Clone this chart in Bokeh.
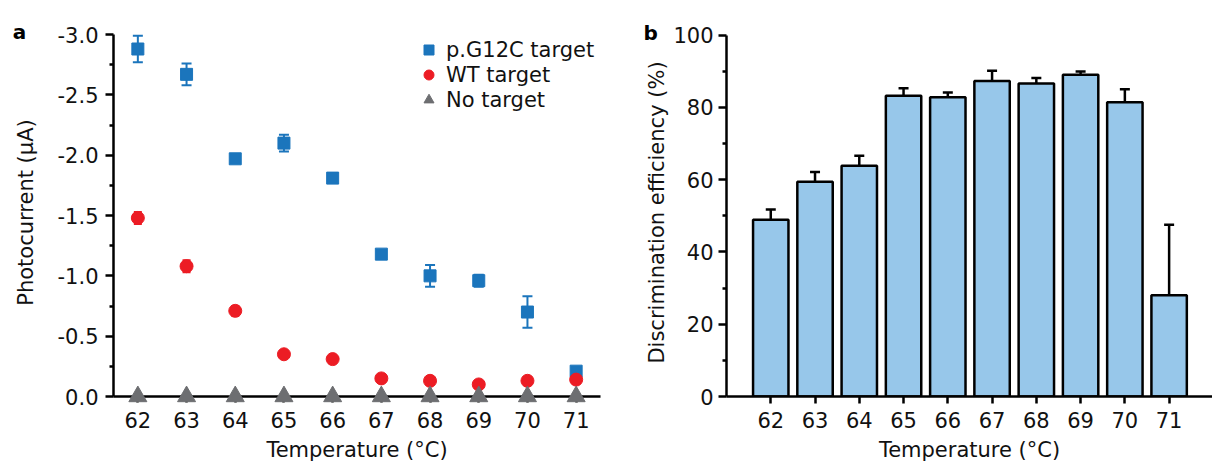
from bokeh.plotting import figure
from bokeh.models import (ColumnDataSource, Whisker, TeeHead, FixedTicker, Range1d,
                          Legend, LegendItem)
from bokeh.layouts import row
from bokeh.embed import file_html
from bokeh.resources import INLINE
from bokeh.core.properties import value

# ---------------- data ----------------
temps = [62, 63, 64, 65, 66, 67, 68, 69, 70, 71]
temp_labels = ["62", "63", "64", "65", "66", "67", "68", "69", "70", "71"]

g12c_mean = [-2.88, -2.67, -1.97, -2.10, -1.81, -1.18, -1.00, -0.96, -0.70, -0.21]
g12c_err = [0.11, 0.09, 0.02, 0.07, 0.04, 0.03, 0.09, 0.05, 0.13, 0.03]
wt_mean = [-1.48, -1.08, -0.71, -0.35, -0.31, -0.15, -0.13, -0.10, -0.13, -0.14]
wt_err = [0.05, 0.05, 0.04, 0.03, 0.02, 0.02, 0.02, 0.02, 0.02, 0.02]
none_mean = [0.0, 0.0, 0.0, 0.0, 0.0, 0.0, 0.0, 0.0, 0.0, 0.0]

eff_mean = [48.9, 59.4, 63.8, 83.2, 82.8, 87.3, 86.6, 89.0, 81.4, 28.0]
eff_err = [2.8, 2.7, 2.8, 2.1, 1.3, 2.8, 1.5, 0.9, 3.6, 19.5]

y1_ticks = [0.0, -0.5, -1.0, -1.5, -2.0, -2.5, -3.0]
y1_labels = ["0.0", "-0.5", "-1.0", "-1.5", "-2.0", "-2.5", "-3.0"]
y1_minor = [-0.25, -0.75, -1.25, -1.75, -2.25, -2.75]
y2_ticks = [0, 20, 40, 60, 80, 100]
y2_labels = ["0", "20", "40", "60", "80", "100"]
y2_minor = [10, 30, 50, 70, 90]

series_names = ["p.G12C target", "WT target", "No target"]
x_title = "Temperature (°C)"
y1_title = "Photocurrent (µA)"
y2_title = "Discrimination efficiency (%)"
panel_tags = ["a", "b"]

# ---------------- style ----------------
BLUE = "#1B75BC"
RED = "#EC1C24"
GRAY = "#6D6E71"
BAR = "#97C7EA"
FONT = "DejaVu Sans"
FS = "21px"
TXT = "#111111"


def style_axis(ax):
    ax.axis_line_width = 2.5
    ax.axis_line_color = "black"
    ax.major_tick_line_width = 2.5
    ax.minor_tick_line_width = 2.5
    ax.major_tick_line_color = "black"
    ax.minor_tick_line_color = "black"
    ax.major_tick_in = 0
    ax.minor_tick_in = 0
    ax.major_label_text_font = FONT
    ax.major_label_text_font_size = FS
    ax.major_label_text_color = TXT
    ax.axis_label_text_font = FONT
    ax.axis_label_text_font_size = FS
    ax.axis_label_text_font_style = "normal"
    ax.axis_label_text_color = TXT


def make_whisker(src, color, lw, head):
    return Whisker(base="x", upper="upper", lower="lower", source=src,
                   dimension="height", line_color=color, line_width=lw,
                   upper_head=TeeHead(size=head, line_color=color, line_width=lw),
                   lower_head=TeeHead(size=head, line_color=color, line_width=lw))


W1, W2, H = 630, 582, 465

# ---------------- panel a ----------------
p1 = figure(width=W1, height=H, output_backend="svg", toolbar_location=None,
            x_range=Range1d(61.5, 71.5), y_range=Range1d(0, -3.05),
            min_border_left=113, min_border_right=W1 - 600, min_border_top=28,
            min_border_bottom=H - 396)
p1.outline_line_color = None
p1.xgrid.visible = False
p1.ygrid.visible = False

src_g = ColumnDataSource(dict(x=temps,
                              upper=[m - e for m, e in zip(g12c_mean, g12c_err)],
                              lower=[m + e for m, e in zip(g12c_mean, g12c_err)]))
src_w = ColumnDataSource(dict(x=temps,
                              upper=[m - e for m, e in zip(wt_mean, wt_err)],
                              lower=[m + e for m, e in zip(wt_mean, wt_err)]))
wg = make_whisker(src_g, BLUE, 2, 10)
wg.level = "underlay"
ww = make_whisker(src_w, RED, 2, 8)
ww.level = "underlay"
p1.add_layout(wg)
p1.add_layout(ww)

r_g = p1.scatter(temps, g12c_mean, marker="square", size=12, color=BLUE)
r_w = p1.scatter(temps, wt_mean, marker="circle", size=13, color=RED)
r_n = p1.scatter(temps, none_mean, marker="triangle", size=18, color=GRAY, level="overlay")

legend = Legend(items=[LegendItem(label=series_names[0], renderers=[r_g]),
                       LegendItem(label=series_names[1], renderers=[r_w]),
                       LegendItem(label=series_names[2], renderers=[r_n])],
                location=(303, 284))
legend.border_line_color = None
legend.background_fill_alpha = 0
legend.padding = 0
legend.margin = 0
legend.spacing = 0
legend.glyph_width = 25
legend.glyph_height = 25
legend.label_height = 20
legend.label_standoff = 5
legend.label_text_font = FONT
legend.label_text_font_size = FS
legend.label_text_color = TXT
p1.add_layout(legend)

p1.xaxis.ticker = FixedTicker(ticks=temps, minor_ticks=[])
p1.xaxis.major_label_overrides = {t: l for t, l in zip(temps, temp_labels)}
p1.yaxis.ticker = FixedTicker(ticks=y1_ticks, minor_ticks=y1_minor)
p1.yaxis.major_label_overrides = {t: l for t, l in zip(y1_ticks, y1_labels)}
p1.yaxis.bounds = (-3.0, 0.0)
p1.xaxis.axis_label = x_title
p1.yaxis.axis_label = y1_title
style_axis(p1.xaxis[0])
style_axis(p1.yaxis[0])
p1.xaxis.major_tick_out = 6
p1.xaxis.major_label_standoff = 9
p1.xaxis.axis_label_standoff = 7
p1.yaxis.major_tick_out = 8
p1.yaxis.minor_tick_out = 4
p1.yaxis.major_label_standoff = 7
p1.yaxis.axis_label_standoff = 17

p1.text(x=[59.43], y=[-3.017], text=[panel_tags[0]], text_font=value(FONT),
        text_font_size="20px", text_font_style="bold", text_color="black",
        text_baseline="alphabetic", text_align="left", level="overlay")

# ---------------- panel b ----------------
p2 = figure(width=W2, height=H, output_backend="svg", toolbar_location=None,
            x_range=Range1d(61, 71.98), y_range=Range1d(0, 101.8),
            min_border_left=726 - W1, min_border_right=0, min_border_top=28,
            min_border_bottom=H - 396)
p2.outline_line_color = None
p2.xgrid.visible = False
p2.ygrid.visible = False

p2.vbar(x=temps, top=eff_mean, bottom=0, width=0.8, fill_color=BAR,
        line_color="black", line_width=2.5)
src_e = ColumnDataSource(dict(x=temps,
                              upper=[m + e for m, e in zip(eff_mean, eff_err)],
                              lower=[m - e for m, e in zip(eff_mean, eff_err)]))
p2.add_layout(make_whisker(src_e, "black", 2.5, 10))

p2.xaxis.ticker = FixedTicker(ticks=temps, minor_ticks=[])
p2.xaxis.major_label_overrides = {t: l for t, l in zip(temps, temp_labels)}
p2.yaxis.ticker = FixedTicker(ticks=y2_ticks, minor_ticks=y2_minor)
p2.yaxis.major_label_overrides = {t: l for t, l in zip(y2_ticks, y2_labels)}
p2.yaxis.bounds = (0, 100)
p2.xaxis.axis_label = x_title
p2.yaxis.axis_label = y2_title
style_axis(p2.xaxis[0])
style_axis(p2.yaxis[0])
p2.xaxis.major_tick_out = 7
p2.xaxis.major_label_standoff = 8
p2.xaxis.axis_label_standoff = 7
p2.yaxis.major_tick_out = 8
p2.yaxis.minor_tick_out = 4
p2.yaxis.major_label_standoff = 5
p2.yaxis.axis_label_standoff = 1

p2.text(x=[59.125], y=[100.55], text=[panel_tags[1]], text_font=value(FONT),
        text_font_size="20px", text_font_style="bold", text_color="black",
        text_baseline="alphabetic", text_align="left", level="overlay")

layout = row(p1, p2)
open("out.html", "w").write(file_html(layout, INLINE))
